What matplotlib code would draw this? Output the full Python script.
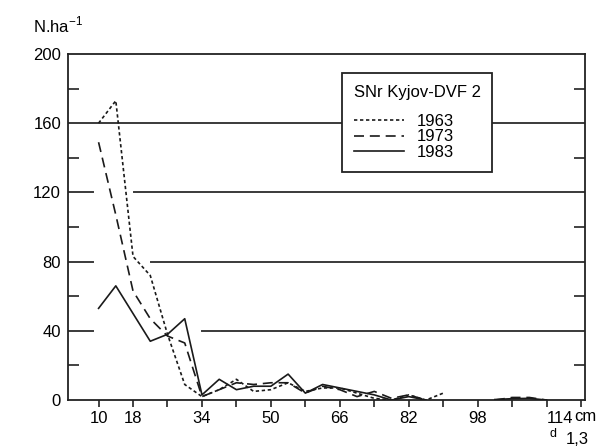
import numpy as np
import matplotlib.pyplot as plt
from matplotlib.ticker import MultipleLocator, FixedLocator

plt.rcParams['font.family'] = ['Liberation Sans', 'DejaVu Sans']
plt.rcParams['mathtext.fontset'] = 'custom'
plt.rcParams['mathtext.rm'] = 'Liberation Sans'

nan = np.nan

# diameter classes (cm) and stem numbers per hectare
diam = [10, 14, 18, 22, 26, 30, 34, 38, 42, 46, 50, 54, 58, 62, 66, 70, 74, 78, 82, 86, 90,
        94, 98, 102, 106, 110, 114]
n1963 = [160, 173, 83, 72, 38, 9, 2, 6, 12, 5, 6, 10, 5, 7, 7, 4, 1, 0, 3, 0, 4,
         nan, nan, nan, nan, nan, nan]
n1973 = [149, 107, 63, 47, 37, 33, 2, 6, 10, 9, 10, 10, 4, 8, 6, 2, 5, 1, 3, 0, nan,
         nan, nan, 0, 1.5, 1.5, 0]
n1983 = [53, 66, 50, 34, 38, 47, 3, 12, 6, 8, 8, 15, 4, 9, 7, 5, 3, 0, 2, 0, nan,
         nan, nan, 0.3, 0.8, 1.0, 0]

years = ['1963', '1973', '1983']
yticks = [0, 40, 80, 120, 160, 200]
xticklabels = [10, 18, 34, 50, 66, 82, 98, 114]

# horizontal rules: (level, left stub end, right part start)
rules = [(160, None, None), (120, 8.6, 18.3), (80, 8.6, 22.2), (40, 8.6, 34.0)]

fig = plt.figure(figsize=(5.99, 4.48), dpi=100)
ax = fig.add_axes([0.1135, 0.107, 0.863, 0.7725])
xmin, xmax = 2.9, 122.9
ax.set_xlim(xmin, xmax)
ax.set_ylim(0, 200)

gc = '#3a3a3a'
for lev, a, b in rules:
    if a is None:
        ax.plot([xmin, xmax], [lev, lev], color=gc, lw=1.4, zorder=1)
    else:
        ax.plot([xmin, a], [lev, lev], color=gc, lw=1.4, zorder=1)
        ax.plot([b, xmax], [lev, lev], color=gc, lw=1.4, zorder=1)

lc = '#1a1a1a'
ax.plot(diam, n1963, color=lc, lw=1.2, ls=(0, (2, 1.6)), label=years[0], zorder=3)
ax.plot(diam, n1973, color=lc, lw=1.2, ls=(0, (6, 3.5)), label=years[1], zorder=3)
ax.plot(diam, n1983, color=lc, lw=1.2, ls='-', label=years[2], zorder=3)

for s in ax.spines.values():
    s.set_linewidth(1.3)
    s.set_color('#222222')

ax.yaxis.set_major_locator(FixedLocator(yticks))
ax.yaxis.set_minor_locator(FixedLocator([20, 60, 100, 140, 180]))
ax.tick_params(axis='y', which='major', length=0, labelsize=12, pad=5)
ax.tick_params(axis='y', which='minor', direction='in', length=8, width=1.2,
               left=True, right=True, color='#222222')

ax.xaxis.set_major_locator(FixedLocator(xticklabels))
ax.xaxis.set_minor_locator(MultipleLocator(8, offset=2))
ax.tick_params(axis='x', which='both', direction='out', length=5, width=1.2,
               color='#222222')
ax.tick_params(axis='x', which='major', labelsize=12, pad=3)
# last label starts at its tick, unit follows it
ax.get_xticklabels()[-1].set_horizontalalignment('left')

fig.text(0.055, 0.945, 'N.ha$^{-1}$', fontsize=12, ha='left', va='center')
fig.text(0.958, 0.070, 'cm', fontsize=12, ha='left', va='center')
fig.text(0.917, 0.032, 'd', fontsize=9, ha='left', va='center')
fig.text(0.944, 0.020, '1,3', fontsize=12, ha='left', va='center')

leg = ax.legend(title='SNr Kyjov-DVF 2', loc='upper left',
                bbox_to_anchor=(0.530, 0.945), borderaxespad=0,
                fontsize=12, title_fontsize=12,
                handlelength=3.0, labelspacing=0.05, borderpad=0.7,
                fancybox=False, framealpha=1, edgecolor='#222222')
leg.get_frame().set_linewidth(1.3)
leg._legend_box.align = 'left'
leg._legend_box.sep = 10
leg.set_zorder(5)

fig.savefig('out.png', dpi=100)
